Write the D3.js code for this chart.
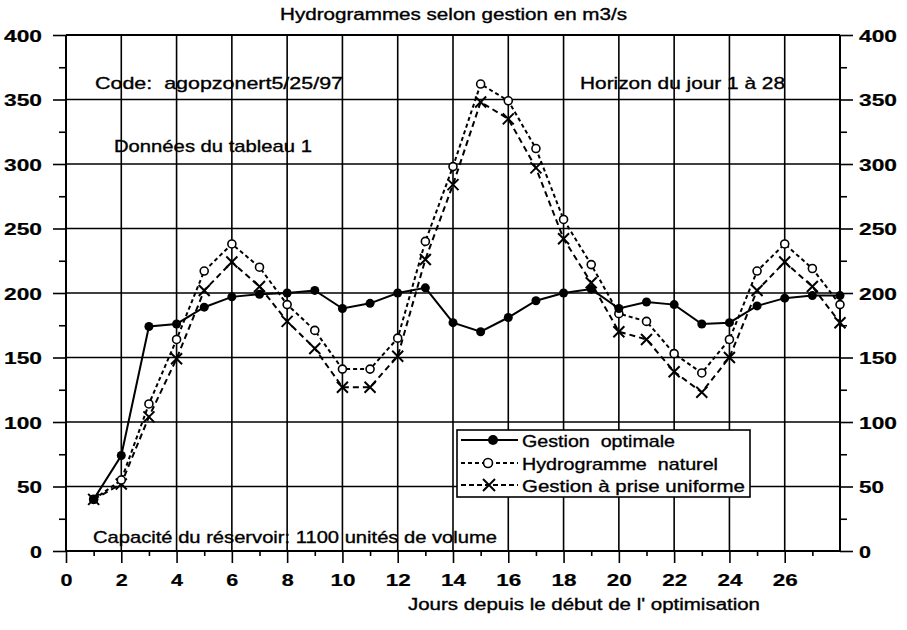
<!DOCTYPE html>
<html><head><meta charset="utf-8">
<script src="https://cdn.jsdelivr.net/npm/d3@7"></script>
<style>
body{margin:0;background:#fff}
text{font-family:"Liberation Sans",Arial,Helvetica,sans-serif;fill:#000;white-space:pre}
</style>
</head><body>
<svg id="c" width="907" height="630"></svg>
<script>
// ---- data ----
const days = [1,2,3,4,5,6,7,8,9,10,11,12,13,14,15,16,17,18,19,20,21,22,23,24,25,26,27,28];
const optimale = [40,74,174,176,189,197,199,200,202,188,192,200,204,177,170,181,194,200,203,188,193,191,176,177,190,196,198,198];
const naturel  = [40,55,114,164,217,238,220,191,171,141,141,165,240,298,362,349,312,257,222,184,178,153,138,164,217,238,219,191];
const uniforme = [40,52,104,149,202,224,205,178,157,127,127,151,226,284,348,335,297,242,208,170,164,139,123,150,202,224,205,177];
const xTicks = [0,2,4,6,8,10,12,14,16,18,20,22,24,26];
const xMinor = [1,3,5,7,9,11,13,15,17,19,21,23,25,27];
const yTicks = [0,50,100,150,200,250,300,350,400];
const yMinor = [25,75,125,175,225,275,325,375];
const seriesNames = ["Gestion  optimale","Hydrogramme  naturel","Gestion à prise uniforme"];
const titleText = "Hydrogrammes selon gestion en m3/s";
const xTitle = "Jours depuis le début de l' optimisation";
const notes = ["Code:  agopzonert5/25/97","Horizon du jour 1 à 28","Données du tableau 1","Capacité du réservoir: 1100 unités de volume"];

// ---- layout ----
const svg = d3.select("#c");
const x = d3.scaleLinear().domain([0,28]).range([66,840]);
const y = d3.scaleLinear().domain([0,400]).range([551,35]);
const ink = "#000";

function txt(s, px, py, w, size, opt={}) {
  const t = svg.append("text").attr("x",px).attr("y",py).attr("font-size",size)
    .attr("textLength",w).attr("lengthAdjust","spacingAndGlyphs")
    .attr("stroke",ink).attr("stroke-width",opt.sw==null?0.35:opt.sw).text(s);
  if (opt.anchor) t.attr("text-anchor",opt.anchor);
  if (opt.weight) t.attr("font-weight",opt.weight);
  return t;
}

// grid
svg.append("g").selectAll("line").data(xTicks.filter(d=>d>0)).join("line")
  .attr("x1",d=>x(d)).attr("x2",d=>x(d)).attr("y1",y(0)).attr("y2",y(400))
  .attr("stroke",ink).attr("stroke-width",1.6);
svg.append("g").selectAll("line").data(yTicks).join("line")
  .attr("x1",x(0)).attr("x2",x(28)).attr("y1",d=>y(d)).attr("y2",d=>y(d))
  .attr("stroke",ink).attr("stroke-width",d=>(d===0||d===400)?2:1.6);
// frame verticals
[0,28].forEach(v=>svg.append("line").attr("x1",x(v)).attr("x2",x(v)).attr("y1",y(0)).attr("y2",y(400))
  .attr("stroke",ink).attr("stroke-width",2));

function styleAxis(g, size) {
  g.attr("font-family",null).attr("font-size",null);
  g.select(".domain").remove();
  g.selectAll(".tick line").attr("stroke",ink).attr("stroke-width",1.6);
  g.selectAll(".tick text").attr("font-size",size).attr("font-weight","bold").attr("fill",ink)
    .attr("stroke",ink).attr("stroke-width",0.2)
    .each(function(d){ const s=String(d); d3.select(this).attr("textLength",13*s.length-1).attr("lengthAdjust","spacingAndGlyphs"); });
}
// left axis
const gl = svg.append("g").attr("transform",`translate(${x(0)},0)`)
  .call(d3.axisLeft(y).tickValues(yTicks).tickSize(13).tickPadding(11));
styleAxis(gl,17);
gl.selectAll(".tick text").attr("dy","0.36em");
const glm = svg.append("g").attr("transform",`translate(${x(0)},0)`)
  .call(d3.axisLeft(y).tickValues(yMinor).tickSize(7).tickFormat(""));
styleAxis(glm,17);
// right axis
const gr = svg.append("g").attr("transform",`translate(${x(28)},0)`)
  .call(d3.axisRight(y).tickValues(yTicks).tickSize(13).tickPadding(6));
styleAxis(gr,17);
gr.selectAll(".tick text").attr("dy","0.36em");
const grm = svg.append("g").attr("transform",`translate(${x(28)},0)`)
  .call(d3.axisRight(y).tickValues(yMinor).tickSize(7).tickFormat(""));
styleAxis(grm,17);
// bottom axis
const gb = svg.append("g").attr("transform",`translate(0,${y(0)})`)
  .call(d3.axisBottom(x).tickValues(xTicks).tickSize(12).tickPadding(11));
styleAxis(gb,17);
const gbm = svg.append("g").attr("transform",`translate(0,${y(0)})`)
  .call(d3.axisBottom(x).tickValues(xMinor).tickSize(5).tickFormat(""));
styleAxis(gbm,17);

// series
const line = d3.line().x((d,i)=>x(days[i])).y(d=>y(d));
svg.append("path").datum(uniforme).attr("d",line).attr("fill","none").attr("stroke",ink)
  .attr("stroke-width",2).attr("stroke-dasharray","6,4");
svg.append("path").datum(naturel).attr("d",line).attr("fill","none").attr("stroke",ink)
  .attr("stroke-width",2).attr("stroke-dasharray","4,3");
svg.append("path").datum(optimale).attr("d",line).attr("fill","none").attr("stroke",ink)
  .attr("stroke-width",2);

function xMark(g, cx, cy, h) {
  g.append("path").attr("d",`M${cx-h},${cy-h}L${cx+h},${cy+h}M${cx-h},${cy+h}L${cx+h},${cy-h}`)
    .attr("stroke",ink).attr("stroke-width",2).attr("fill","none");
}
const gm = svg.append("g");
uniforme.forEach((v,i)=>xMark(gm,x(days[i]),y(v),5.5));
gm.selectAll("circle.o").data(naturel).join("circle").attr("class","o")
  .attr("cx",(d,i)=>x(days[i])).attr("cy",d=>y(d)).attr("r",4)
  .attr("fill","#fff").attr("stroke",ink).attr("stroke-width",1.6);
gm.selectAll("circle.f").data(optimale).join("circle").attr("class","f")
  .attr("cx",(d,i)=>x(days[i])).attr("cy",d=>y(d)).attr("r",4.5).attr("fill",ink);

// legend
const lg = svg.append("g");
lg.append("rect").attr("x",457).attr("y",430).attr("width",293).attr("height",67)
  .attr("fill","#fff").attr("stroke",ink).attr("stroke-width",1.6);
const rows = [440,463,485];
lg.append("line").attr("x1",461).attr("x2",518).attr("y1",rows[0]).attr("y2",rows[0]).attr("stroke",ink).attr("stroke-width",2);
lg.append("circle").attr("cx",493).attr("cy",rows[0]).attr("r",5).attr("fill",ink);
lg.append("line").attr("x1",461).attr("x2",518).attr("y1",rows[1]).attr("y2",rows[1]).attr("stroke",ink).attr("stroke-width",2).attr("stroke-dasharray","4,3");
lg.append("circle").attr("cx",488).attr("cy",rows[1]).attr("r",4.5).attr("fill","#fff").attr("stroke",ink).attr("stroke-width",1.6);
lg.append("line").attr("x1",461).attr("x2",518).attr("y1",rows[2]).attr("y2",rows[2]).attr("stroke",ink).attr("stroke-width",2).attr("stroke-dasharray","5,3");
xMark(lg,489,rows[2],6);
const legW = [153,196,223];
seriesNames.forEach((s,i)=>txt(s,522,rows[i]+7,legW[i],17));

// texts
txt(titleText,280,20,347,16);
txt(xTitle,408,610,352,16);
txt(notes[0],95,89,248,17);
txt(notes[1],580,89,205,17);
txt(notes[2],114,152,198,17);
txt(notes[3],93,543,404,17);
</script>
</body></html>
